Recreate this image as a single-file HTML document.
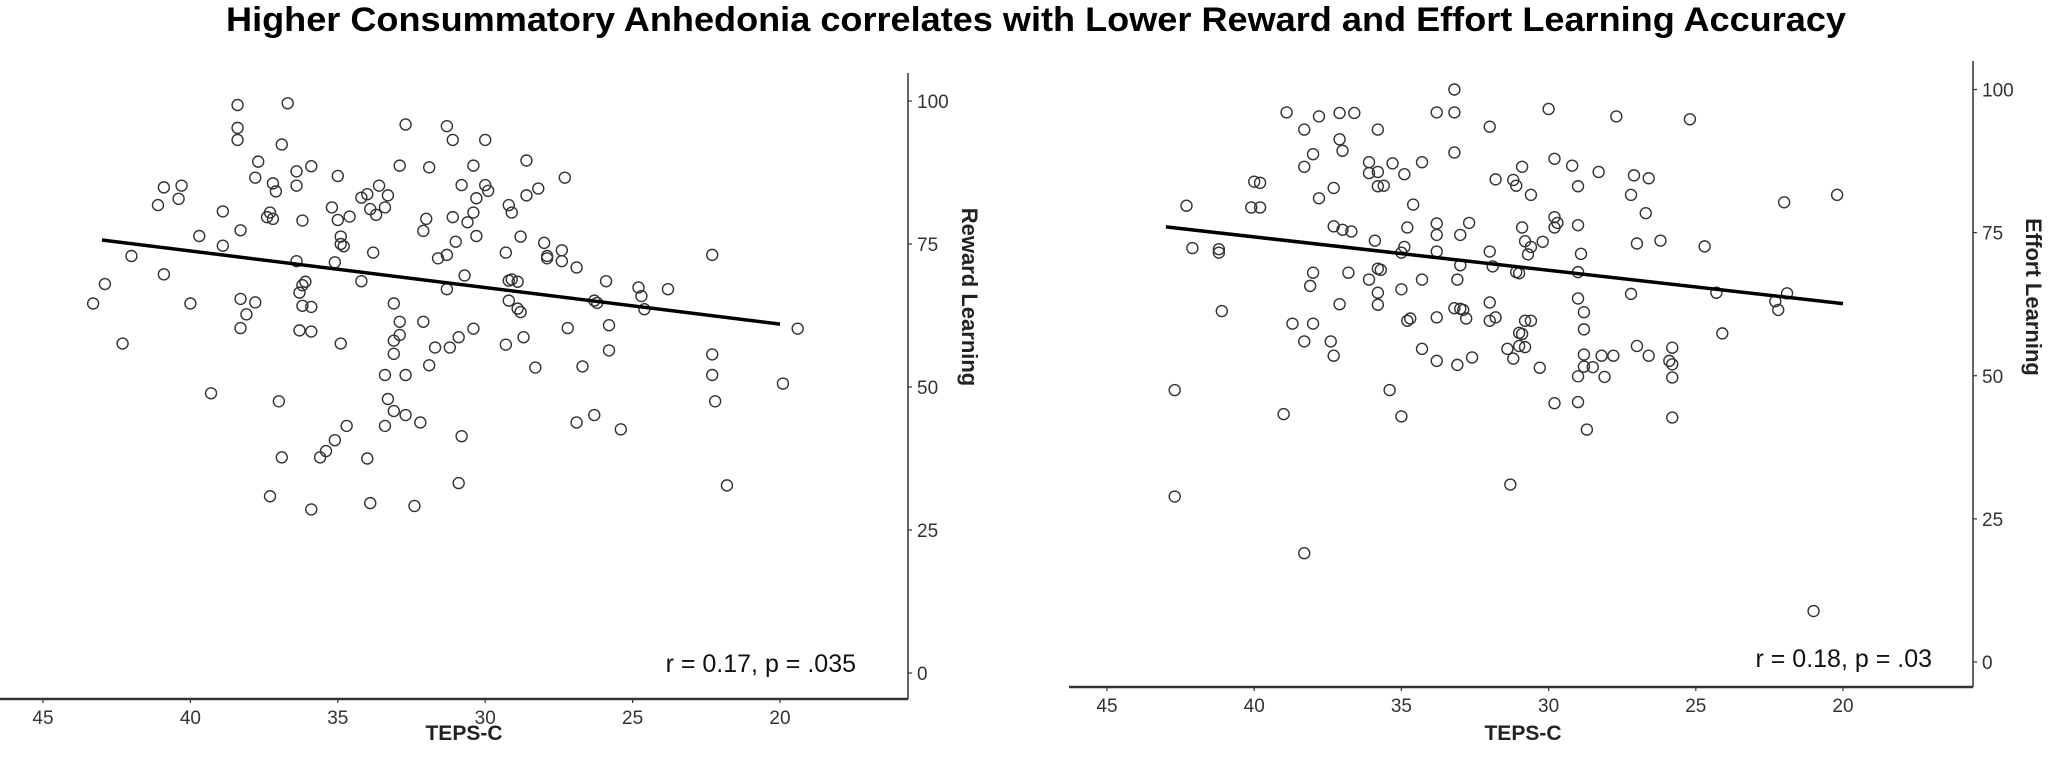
<!DOCTYPE html>
<html><head><meta charset="utf-8">
<style>
html,body{margin:0;padding:0;background:#fff;}
svg{display:block;font-family:"Liberation Sans",Arial,sans-serif;}
</style></head>
<body>
<svg id="chart" width="2049" height="759" viewBox="0 0 2049 759" xmlns="http://www.w3.org/2000/svg">
<text x="1036" y="31" text-anchor="middle" font-size="34" font-weight="bold" textLength="1620" lengthAdjust="spacingAndGlyphs" fill="#000">Higher Consummatory Anhedonia correlates with Lower Reward and Effort Learning Accuracy</text>
<g id="left"></g>
<g id="right"></g>
</svg>
<script>
// ---- data ----
const xTicks = [45, 40, 35, 30, 25, 20];
const yTicks = [0, 25, 50, 75, 100];
const rewardTeps = [38.4,36.7,38.4,38.4,36.9,32.7,31.3,31.1,30.0,37.7,35.9,36.4,35.0,32.9,31.9,30.4,28.6,27.3,37.8,37.2,37.1,36.4,40.9,40.3,33.6,34.0,33.3,34.2,30.8,30.0,29.9,30.3,28.2,28.6,40.4,41.1,38.9,37.3,37.4,37.2,36.2,35.2,35.0,34.6,33.9,33.7,33.4,32.0,31.1,30.6,30.4,29.2,29.1,30.3,31.0,28.8,39.7,38.3,34.9,34.9,34.8,33.8,32.1,31.3,38.9,42.0,28.0,27.9,27.4,27.4,26.9,27.9,29.3,36.4,35.1,31.6,22.3,42.9,40.9,30.7,36.1,36.2,36.3,34.2,29.1,29.2,28.9,25.9,24.8,23.8,43.3,40.0,38.3,37.8,38.1,36.2,35.9,33.1,31.3,29.2,28.9,28.8,26.2,24.6,24.7,26.3,38.3,36.3,35.9,32.9,32.9,32.1,30.4,30.9,31.2,31.7,33.1,29.3,28.7,34.9,42.3,25.8,27.2,25.8,22.3,19.4,33.1,31.9,33.4,32.7,28.3,26.7,22.3,19.9,22.2,39.3,37.0,33.3,33.1,33.4,32.7,32.2,26.9,26.3,25.4,34.7,35.1,35.4,35.6,36.9,34.0,30.8,30.9,21.8,37.3,35.9,33.9,32.4];
const rewardLearning = [99.3,99.6,95.3,93.2,92.4,95.9,95.6,93.2,93.2,89.4,88.6,87.7,86.9,88.7,88.4,88.7,89.6,86.6,86.6,85.6,84.2,85.2,84.9,85.2,85.2,83.7,83.5,83.1,85.3,85.3,84.3,83.0,84.7,83.5,82.9,81.8,80.7,80.5,79.7,79.4,79.1,81.4,79.2,79.8,81.1,80.1,81.4,79.4,79.7,78.8,80.5,81.8,80.5,76.4,75.4,76.3,76.4,77.4,76.3,75.0,74.6,73.5,77.3,73.1,74.7,72.9,75.2,72.5,73.9,72.0,70.9,72.9,73.5,72.0,71.8,72.5,73.1,68.0,69.7,69.5,68.4,67.8,66.5,68.5,68.8,68.6,68.4,68.5,67.4,67.1,64.6,64.6,65.4,64.8,62.7,64.2,64.0,64.6,67.1,65.1,63.7,63.1,64.7,63.6,65.9,65.1,60.3,59.9,59.7,61.4,59.1,61.4,60.2,58.7,56.9,56.9,58.1,57.4,58.7,57.6,57.6,60.8,60.3,56.4,55.7,60.2,55.8,53.8,52.1,52.1,53.4,53.6,52.1,50.6,47.5,48.9,47.5,47.9,45.8,43.2,45.1,43.8,43.8,45.1,42.6,43.2,40.7,38.8,37.7,37.7,37.5,41.4,33.2,32.8,30.9,28.6,29.7,29.2];
const effortTeps = [33.2,30.0,33.8,33.2,38.9,37.8,37.1,36.6,27.7,25.2,38.3,35.8,32.0,37.1,37.0,38.0,33.2,38.3,36.1,35.3,34.3,35.8,36.1,35.6,35.8,34.9,29.8,30.9,29.2,28.3,27.1,26.6,40.0,39.8,31.8,31.2,31.1,30.6,29.0,22.0,20.2,42.3,40.1,39.8,37.8,37.3,34.6,27.2,26.7,29.8,29.7,29.8,29.0,33.8,32.7,30.9,37.3,37.0,36.7,35.9,34.8,33.8,33.0,33.8,34.9,35.0,32.0,30.8,30.6,30.2,28.9,27.0,26.2,24.7,42.1,41.2,41.2,30.7,33.0,31.9,31.1,31.0,29.0,35.7,36.8,38.0,36.1,34.3,33.1,38.1,35.8,35.8,37.1,34.7,34.8,33.8,32.8,33.2,33.0,32.9,32.0,31.8,32.0,30.8,30.6,29.0,28.8,27.2,24.3,22.3,22.2,21.9,35.0,35.8,38.0,38.7,41.1,31.0,30.9,30.8,31.0,24.1,31.2,33.1,33.8,32.6,34.3,28.8,28.8,28.2,27.8,37.4,38.3,31.4,28.8,28.5,27.0,25.8,25.9,25.8,30.3,26.6,29.0,28.1,25.8,37.3,42.7,35.4,29.0,29.8,39.0,35.0,25.8,28.7,31.3,42.7,38.3,21.0];
const effortLearning = [100.0,96.6,96.0,96.0,96.0,95.3,95.9,95.9,95.3,94.8,93.0,93.0,93.5,91.3,89.3,88.7,89.0,86.5,87.3,87.1,87.3,85.6,85.4,83.2,83.1,85.2,87.9,86.5,86.7,85.6,85.0,84.5,83.9,83.7,84.3,84.2,83.2,81.6,83.1,80.3,81.6,79.7,79.4,79.4,81.0,82.8,79.9,81.6,78.4,77.7,76.7,75.9,76.3,76.6,76.7,75.9,76.1,75.5,75.2,73.6,75.9,74.6,74.6,71.7,72.5,71.5,71.7,73.5,72.5,73.4,71.3,73.1,73.6,72.6,72.3,72.1,71.5,71.2,69.3,69.1,68.1,67.9,68.1,68.5,68.0,68.0,66.8,66.8,66.8,65.7,64.5,62.4,62.5,60.0,59.6,60.2,60.0,61.8,61.7,61.5,62.8,60.2,59.6,59.6,59.6,63.5,61.1,64.3,64.5,63.0,61.5,64.4,65.1,68.7,59.1,59.1,61.3,57.5,57.3,55.0,55.2,57.4,53.0,51.9,52.6,53.2,54.7,58.1,53.7,53.5,53.5,56.0,56.0,54.7,51.6,51.5,55.2,54.9,52.6,52.0,51.4,53.5,49.9,49.8,49.7,53.5,47.5,47.5,45.4,45.2,43.3,42.9,42.7,40.6,31.0,28.9,19.0,8.9];
const rewardFitX = [43, 20];
const rewardFitY = [75.7, 61.0];
const effortFitX = [43, 20];
const effortFitY = [76.0, 62.6];
const rewardStat = "r = 0.17, p = .035";
const effortStat = "r = 0.18, p = .03";

const NS = "http://www.w3.org/2000/svg";
function mk(tag, attrs, parent) {
  const e = document.createElementNS(NS, tag);
  for (const k in attrs) e.setAttribute(k, attrs[k]);
  parent.appendChild(e);
  return e;
}

function panel(g, cfg) {
  const xs = v => cfg.x45 + (45 - v) * cfg.xu;
  const ys = v => cfg.y0 - v * cfg.yu;
  const xa = mk('line', {x1: cfg.axL, y1: cfg.axY, x2: cfg.axX, y2: cfg.axY, stroke: '#333', 'stroke-width': 2.5}, g);
  
  
  const ya = mk('line', {x1: cfg.axX, y1: cfg.axTop, x2: cfg.axX, y2: cfg.axY, stroke: '#333', 'stroke-width': 1.5}, g);
  
  
  xTicks.forEach(t => {
    const x = xs(t);
    mk('line', {x1: x, y1: cfg.axY, x2: x, y2: cfg.axY + 4, stroke: '#333', 'stroke-width': 1.2}, g);
    const tx = mk('text', {x: x, y: cfg.axY + 25, 'text-anchor': 'middle', 'font-size': 19, fill: '#333'}, g);
    tx.textContent = t;
    
    
  });
  yTicks.forEach(t => {
    const y = ys(t);
    mk('line', {x1: cfg.axX, y1: y, x2: cfg.axX + 4, y2: y, stroke: '#333', 'stroke-width': 1.2}, g);
    const ty = mk('text', {x: cfg.axX + 9, y: y + 7, 'font-size': 19, fill: '#333'}, g);
    ty.textContent = t;
    
    
  });
  cfg.px.forEach((v, i) => {
    const c = mk('circle', {cx: xs(v), cy: ys(cfg.py[i]), r: 5.5, fill: 'none', stroke: '#333', 'stroke-width': 1.4}, g);
    
    
  });
  const fl = mk('line', {x1: xs(cfg.fx[0]), y1: ys(cfg.fy[0]), x2: xs(cfg.fx[1]), y2: ys(cfg.fy[1]), stroke: '#000', 'stroke-width': 3.5}, g);
  
  
  const xt = mk('text', {x: cfg.xTitleX, y: 740, 'text-anchor': 'middle', 'font-size': 21, 'font-weight': 'bold', fill: '#222'}, g);
  xt.textContent = 'TEPS-C';
  
  
  const yt = mk('text', {x: 0, y: 0, 'text-anchor': 'middle', 'font-size': 22, 'font-weight': 'bold', fill: '#222', transform: `translate(${cfg.yTitleX},297) rotate(90)`}, g);
  yt.textContent = cfg.yTitle;
  
  
  const st = mk('text', {x: cfg.statX, y: cfg.statY, 'text-anchor': 'end', 'font-size': 25, fill: '#111'}, g);
  st.textContent = cfg.stat;
  
  
}

panel(document.getElementById('left'), {
  x45: 43, xu: 29.48, y0: 673, yu: 5.72,
  axL: 0, axX: 908, axY: 699, axTop: 73,
  px: rewardTeps, py: rewardLearning, fx: rewardFitX, fy: rewardFitY,
  xTitleX: 464, yTitleX: 962, yTitle: 'Reward Learning',
  stat: rewardStat, statX: 856, statY: 672
});
panel(document.getElementById('right'), {
  x45: 1107, xu: 29.44, y0: 662, yu: 5.725,
  axL: 1069, axX: 1973, axY: 687, axTop: 61,
  px: effortTeps, py: effortLearning, fx: effortFitX, fy: effortFitY,
  xTitleX: 1523, yTitleX: 2026, yTitle: 'Effort Learning',
  stat: effortStat, statX: 1932, statY: 667
});
</script>
</body></html>
